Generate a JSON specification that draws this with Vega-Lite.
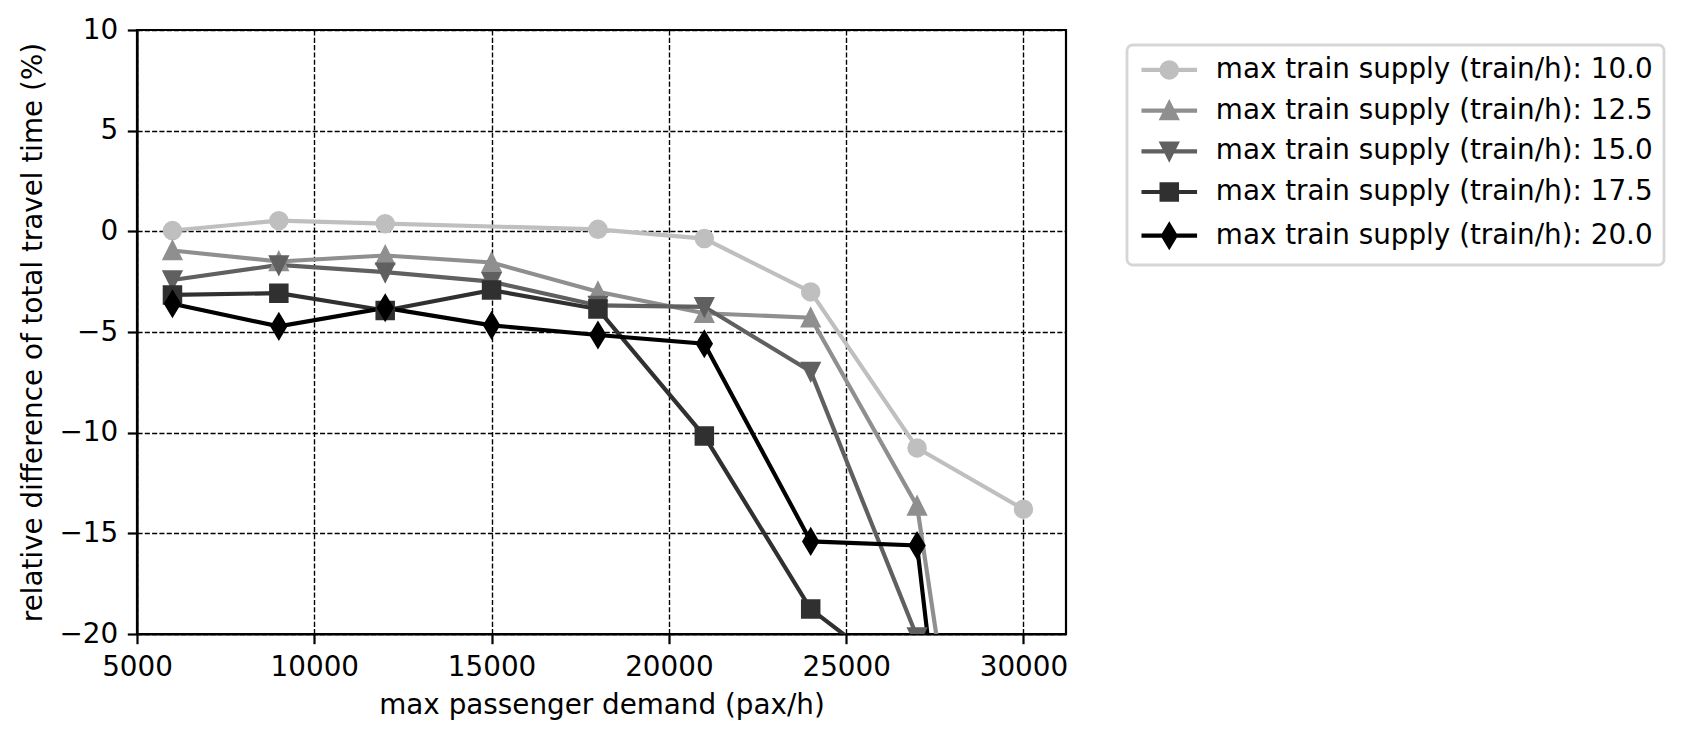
{
  "$schema": "https://vega.github.io/schema/vega-lite/v6.json",
  "width": 929,
  "height": 604,
  "autosize": {"type": "none"},
  "padding": {"left": 137, "top": 30, "right": 618, "bottom": 107},
  "background": "white",
  "data": {
    "values": [
      {"demand": 6000, "diff": 0.04, "supply": "10.0"},
      {"demand": 9000, "diff": 0.53, "supply": "10.0"},
      {"demand": 12000, "diff": 0.38, "supply": "10.0"},
      {"demand": 18000, "diff": 0.1, "supply": "10.0"},
      {"demand": 21000, "diff": -0.36, "supply": "10.0"},
      {"demand": 24000, "diff": -3.01, "supply": "10.0"},
      {"demand": 27000, "diff": -10.76, "supply": "10.0"},
      {"demand": 30000, "diff": -13.8, "supply": "10.0"},
      {"demand": 6000, "diff": -0.95, "supply": "12.5"},
      {"demand": 9000, "diff": -1.5, "supply": "12.5"},
      {"demand": 12000, "diff": -1.2, "supply": "12.5"},
      {"demand": 15000, "diff": -1.55, "supply": "12.5"},
      {"demand": 18000, "diff": -3.0, "supply": "12.5"},
      {"demand": 21000, "diff": -4.07, "supply": "12.5"},
      {"demand": 24000, "diff": -4.29, "supply": "12.5"},
      {"demand": 27000, "diff": -13.64, "supply": "12.5"},
      {"demand": 30000, "diff": -49.0, "supply": "12.5"},
      {"demand": 6000, "diff": -2.42, "supply": "15.0"},
      {"demand": 9000, "diff": -1.67, "supply": "15.0"},
      {"demand": 12000, "diff": -2.03, "supply": "15.0"},
      {"demand": 15000, "diff": -2.5, "supply": "15.0"},
      {"demand": 18000, "diff": -3.68, "supply": "15.0"},
      {"demand": 21000, "diff": -3.75, "supply": "15.0"},
      {"demand": 24000, "diff": -6.96, "supply": "15.0"},
      {"demand": 27000, "diff": -20.15, "supply": "15.0"},
      {"demand": 6000, "diff": -3.16, "supply": "17.5"},
      {"demand": 9000, "diff": -3.07, "supply": "17.5"},
      {"demand": 12000, "diff": -3.93, "supply": "17.5"},
      {"demand": 15000, "diff": -2.92, "supply": "17.5"},
      {"demand": 18000, "diff": -3.86, "supply": "17.5"},
      {"demand": 21000, "diff": -10.17, "supply": "17.5"},
      {"demand": 24000, "diff": -18.76, "supply": "17.5"},
      {"demand": 27000, "diff": -22.8, "supply": "17.5"},
      {"demand": 6000, "diff": -3.6, "supply": "20.0"},
      {"demand": 9000, "diff": -4.72, "supply": "20.0"},
      {"demand": 12000, "diff": -3.8, "supply": "20.0"},
      {"demand": 15000, "diff": -4.67, "supply": "20.0"},
      {"demand": 18000, "diff": -5.15, "supply": "20.0"},
      {"demand": 21000, "diff": -5.58, "supply": "20.0"},
      {"demand": 24000, "diff": -15.4, "supply": "20.0"},
      {"demand": 27000, "diff": -15.6, "supply": "20.0"},
      {"demand": 30000, "diff": -61.0, "supply": "20.0"}
    ]
  },
  "encoding": {
    "x": {
      "field": "demand",
      "type": "quantitative",
      "scale": {"domain": [5000, 31200], "nice": false, "zero": false},
      "axis": {
        "title": "max passenger demand (pax/h)",
        "values": [5000, 10000, 15000, 20000, 25000, 30000],
        "format": "d",
        "titlePadding": 10
      }
    },
    "y": {
      "field": "diff",
      "type": "quantitative",
      "scale": {"domain": [-20, 10], "nice": false, "zero": false},
      "axis": {
        "title": "relative difference of total travel time (%)",
        "values": [-20, -15, -10, -5, 0, 5, 10],
        "format": "d",
        "titlePadding": 11
      }
    }
  },
  "resolve": {"scale": {"color": "independent", "shape": "independent", "stroke": "independent"}},
  "layer": [
    {
      "mark": {"type": "line", "strokeWidth": 4.17, "clip": true},
      "encoding": {
        "color": {
          "field": "supply",
          "type": "nominal",
          "scale": {"domain": ["10.0", "12.5", "15.0", "17.5", "20.0"], "range": ["#bfbfbf", "#8f8f8f", "#606060", "#303030", "#000000"]},
          "legend": null
        }
      }
    },
    {
      "mark": {"type": "point", "filled": true, "opacity": 1, "size": 279, "strokeWidth": 2.8, "clip": true},
      "encoding": {
        "color": {
          "field": "supply",
          "type": "nominal",
          "scale": {"domain": ["10.0", "12.5", "15.0", "17.5", "20.0"], "range": ["#bfbfbf", "#8f8f8f", "#606060", "#303030", "#000000"]},
          "legend": null
        },
        "stroke": {
          "field": "supply",
          "type": "nominal",
          "scale": {"domain": ["10.0", "12.5", "15.0", "17.5", "20.0"], "range": ["#bfbfbf", "#8f8f8f", "#606060", "#303030", "#000000"]},
          "legend": null
        },
        "shape": {
          "field": "supply",
          "type": "nominal",
          "scale": {"domain": ["10.0", "12.5", "15.0", "17.5", "20.0"], "range": ["circle", "M0,-1L-1,1L1,1Z", "M0,1L-1,-1L1,-1Z", "square", "M0,-1.414L0.849,0L0,1.414L-0.849,0Z"]},
          "legend": null
        }
      }
    },
    {
      "mark": {"type": "point", "filled": true, "opacity": 0, "size": 279, "strokeWidth": 2.8, "clip": true},
      "encoding": {
        "color": {
          "field": "supply",
          "type": "nominal",
          "scale": {"domain": ["10.0", "12.5", "15.0", "17.5", "20.0"], "range": ["#bfbfbf", "#8f8f8f", "#606060", "#303030", "#000000"]},
          "legend": {
            "orient": "none",
            "legendX": 990,
            "legendY": 15,
            "direction": "vertical",
            "title": null,
            "labelExpr": "'max train supply (train/h): ' + datum.label",
            "labelFontSize": 27.8,
            "labelFont": "DejaVu Sans",
            "labelColor": "black",
            "labelLimit": 0,
            "labelOffset": 50,
            "padding": 11,
            "rowPadding": 11.7,
            "strokeColor": "#d6d6d6",
            "fillColor": "white",
            "cornerRadius": 5.6,
            "symbolSize": 279,
            "symbolStrokeWidth": 2.8,
            "symbolOpacity": 1,
            "encode": {"legend": {"update": {"strokeWidth": {"value": 2.8}}}}
          }
        },
        "stroke": {
          "field": "supply",
          "type": "nominal",
          "scale": {"domain": ["10.0", "12.5", "15.0", "17.5", "20.0"], "range": ["#bfbfbf", "#8f8f8f", "#606060", "#303030", "#000000"]},
          "legend": {
            "orient": "none",
            "legendX": 990,
            "legendY": 15,
            "direction": "vertical",
            "title": null,
            "labelExpr": "'max train supply (train/h): ' + datum.label",
            "labelFontSize": 27.8,
            "labelFont": "DejaVu Sans",
            "labelColor": "black",
            "labelLimit": 0,
            "labelOffset": 50,
            "padding": 11,
            "rowPadding": 11.7,
            "strokeColor": "#d6d6d6",
            "fillColor": "white",
            "cornerRadius": 5.6,
            "symbolSize": 279,
            "symbolStrokeWidth": 2.8,
            "symbolOpacity": 1
          }
        },
        "shape": {
          "field": "supply",
          "type": "nominal",
          "scale": {"domain": ["10.0", "12.5", "15.0", "17.5", "20.0"], "range": [
            "M-1.08,-0.082H5.24V0.082H-1.08ZM1.08,0A1,1,0,1,1,3.08,0A1,1,0,1,1,1.08,0Z",
            "M-1.08,-0.082H5.24V0.082H-1.08ZM2.08,-1L1.08,1L3.08,1Z",
            "M-1.08,-0.082H5.24V0.082H-1.08ZM2.08,1L1.08,-1L3.08,-1Z",
            "M-1.08,-0.082H5.24V0.082H-1.08ZM1.08,-1H3.08V1H1.08Z",
            "M-1.08,-0.082H5.24V0.082H-1.08ZM2.08,-1.414L2.929,0L2.08,1.414L1.231,0Z"
          ]},
          "legend": {
            "orient": "none",
            "legendX": 990,
            "legendY": 15,
            "direction": "vertical",
            "title": null,
            "labelExpr": "'max train supply (train/h): ' + datum.label",
            "labelFontSize": 27.8,
            "labelFont": "DejaVu Sans",
            "labelColor": "black",
            "labelLimit": 0,
            "labelOffset": 50,
            "padding": 11,
            "rowPadding": 11.7,
            "strokeColor": "#d6d6d6",
            "fillColor": "white",
            "cornerRadius": 5.6,
            "symbolSize": 279,
            "symbolStrokeWidth": 2.8,
            "symbolOpacity": 1
          }
        }
      }
    }
  ],
  "config": {
    "font": "DejaVu Sans",
    "view": {"stroke": "black", "strokeWidth": 2.2},
    "axis": {
      "grid": true,
      "gridColor": "black",
      "gridDash": [5.1, 2.2],
      "gridWidth": 1.39,
      "gridOpacity": 1,
      "domain": true,
      "domainColor": "black",
      "domainWidth": 2.2,
      "ticks": true,
      "tickColor": "black",
      "tickWidth": 2.2,
      "tickSize": 9.7,
      "labelPadding": 9.7,
      "labelFont": "DejaVu Sans",
      "labelFontSize": 27.8,
      "labelColor": "black",
      "labelFlush": false,
      "labelOverlap": false,
      "titleFont": "DejaVu Sans",
      "titleFontSize": 27.8,
      "titleFontWeight": "normal",
      "titleColor": "black"
    }
  }
}
